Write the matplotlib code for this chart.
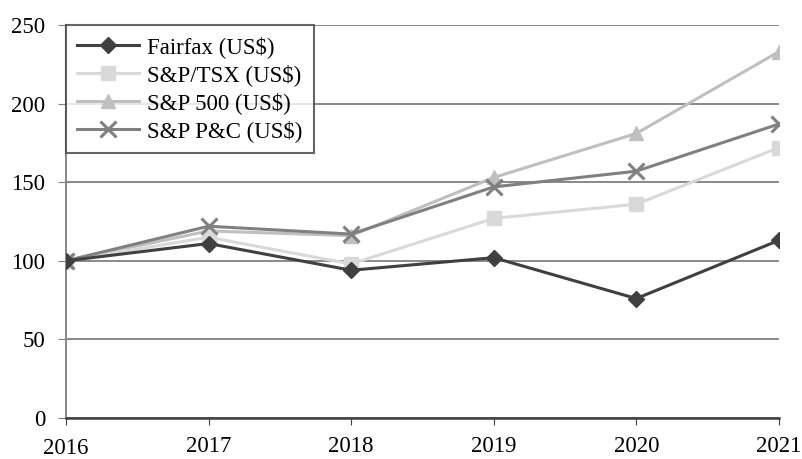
import matplotlib
matplotlib.use("Agg")
import matplotlib.pyplot as plt
import matplotlib.transforms as mtransforms

plt.rcParams['font.family'] = ['Liberation Serif', 'DejaVu Serif']

years = ["2016", "2017", "2018", "2019", "2020", "2021"]
fairfax = [100, 111, 94, 102, 76, 113]
sp_tsx = [100, 115, 98, 127, 136, 172]
sp_500 = [100, 119, 116, 153, 181, 233]
sp_pc = [100, 122, 117, 147, 157, 187]

fig = plt.figure(figsize=(8.02, 4.59), dpi=100)
ax = fig.add_axes([0.0823, 0.0893, 0.8888, 0.8562])
x = list(range(len(years)))

ax.plot(x, fairfax, color='#404040', lw=2.2, marker='D', ms=8, label='Fairfax (US$)', zorder=5)
ax.plot(x, sp_tsx, color='#d9d9d9', lw=2.2, marker='s', ms=10, label='S&P/TSX (US$)', zorder=3)
ax.plot(x, sp_500, color='#bfbfbf', lw=2.2, marker='^', ms=10, label='S&P 500 (US$)', zorder=2)
ax.plot(x, sp_pc, color='#808080', lw=2.2, marker='x', ms=11, mew=2.2, label='S&P P&C (US$)', zorder=4)

ax.set_xlim(0, len(years) - 1)
ax.set_ylim(0, 250)
ax.set_yticks([0, 50, 100, 150, 200, 250])
ax.set_xticks(x)
ax.set_xticklabels(years)
ax.yaxis.grid(True, color='#808080', lw=1.3)
ax.set_axisbelow(True)
for s in ['top', 'right']:
    ax.spines[s].set_visible(False)
ax.spines['left'].set_color('#808080')
ax.spines['left'].set_linewidth(1.3)
ax.spines['bottom'].set_color('#404040')
ax.spines['bottom'].set_linewidth(1.8)
ax.tick_params(axis='y', length=6, color='#808080', labelsize=16.5, pad=9)
ax.tick_params(axis='x', length=5, color='#404040', labelsize=16.5, pad=8, direction='out')

# first x label sits slightly lower
lbl = ax.get_xticklabels()[0]
lbl.set_transform(lbl.get_transform() + mtransforms.ScaledTranslation(0, -1.5/72, fig.dpi_scale_trans))

leg = ax.legend(loc='upper left', bbox_to_anchor=(0.0, 1.0), fontsize=16.5, frameon=True,
                fancybox=False, edgecolor='#404040', borderpad=0.5, labelspacing=0.25,
                handlelength=2.7, handletextpad=0.35, borderaxespad=0)
leg.get_frame().set_linewidth(1.5)
leg.set_zorder(10)

fig.savefig('out.png', dpi=100)
